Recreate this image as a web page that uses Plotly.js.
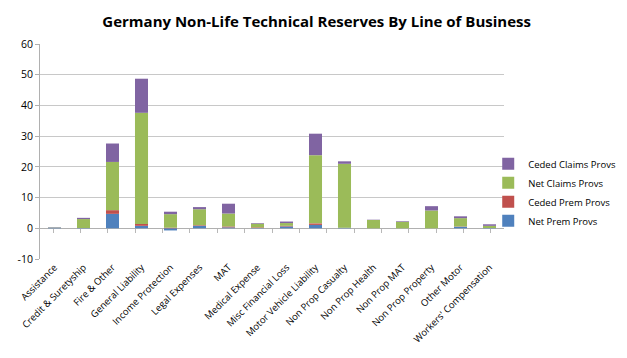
<!DOCTYPE html>
<html><head><meta charset="utf-8">
<script src="https://cdn.plot.ly/plotly-3.0.1.min.js"></script>
<style>html,body{margin:0;padding:0;background:#fff}#chart{width:627px;height:358px}</style>
</head><body><div id="chart"></div>
<script>
const categories = ["Assistance","Credit & Suretyship","Fire & Other","General Liability","Income Protection","Legal Expenses","MAT","Medical Expense","Misc Financial Loss","Motor Vehicle Liability","Non Prop Casualty","Non Prop Health","Non Prop MAT","Non Prop Property","Other Motor","Workers' Compensation"];
const netPremProvs    = [0.2, 0.1, 4.7, 0.8, -0.7, 0.8, 0.3, 0.1, 0.6, 1.1, 0.2, 0.0, 0.0, 0.0, 0.5, 0.1];
const cededPremProvs  = [0.0, 0.0, 1.2, 0.6, 0.2, 0.2, 0.3, 0.2, 0.2, 0.5, 0.0, 0.0, 0.0, 0.0, 0.1, 0.0];
const netClaimsProvs  = [0.1, 2.9, 15.7, 36.2, 4.4, 5.2, 4.2, 1.2, 0.9, 22.2, 20.8, 2.7, 2.1, 5.8, 2.7, 0.7];
const cededClaimsProvs= [0.1, 0.4, 6.0, 11.1, 0.8, 0.7, 3.2, 0.2, 0.5, 7.0, 0.8, 0.1, 0.2, 1.4, 0.6, 0.5];
const yTicks = [-10, 0, 10, 20, 30, 40, 50, 60];
const yRange = [-10, 60];

const series = [
  {name: "Net Prem Provs", y: netPremProvs, color: "#4F81BD"},
  {name: "Ceded Prem Provs", y: cededPremProvs, color: "#C0504D"},
  {name: "Net Claims Provs", y: netClaimsProvs, color: "#9BBB59"},
  {name: "Ceded Claims Provs", y: cededClaimsProvs, color: "#8064A2"}
];
const traces = series.map(s => ({
  type: "bar", name: s.name, x: categories, y: s.y,
  marker: {color: s.color, line: {width: 0}},
  hoverinfo: "x+y+name"
}));
// invisible trace carrying the categories for the tick axis drawn at the zero line
traces.push({type: "scatter", mode: "markers", x: categories, y: categories.map(() => null),
  xaxis: "x2", yaxis: "y", showlegend: false, hoverinfo: "skip", marker: {opacity: 0}});

const zeroPos = (0 - yRange[0]) / (yRange[1] - yRange[0]);

const layout = {
  width: 627, height: 358,
  margin: {l: 40, r: 123, t: 44, b: 99, autoexpand: false},
  paper_bgcolor: "#fff", plot_bgcolor: "#fff",
  barmode: "relative", bargap: 0.55,
  font: {family: "Open Sans, Liberation Sans, sans-serif", color: "#000"},
  title: {text: "<b>Germany Non-Life Technical Reserves By Line of Business</b>",
          font: {size: 15, family: "Open Sans, sans-serif", color: "#000"},
          x: 0.505, xanchor: "center", y: 0.94, yanchor: "middle"},
  xaxis: {
    tickangle: -45, tickfont: {size: 9.5, family: "Open Sans, sans-serif"},
    showgrid: false, showline: false, ticks: "", automargin: false
  },
  xaxis2: {
    overlaying: "x", anchor: "free", position: zeroPos, side: "bottom",
    showticklabels: false, showgrid: false, showline: false, zeroline: false,
    ticks: "outside", tickson: "boundaries", ticklen: 4, tickcolor: "#b8b8b8",
    automargin: false, fixedrange: true
  },
  yaxis: {
    range: yRange, tickvals: yTicks, ticktext: yTicks.map(String),
    tickfont: {size: 10.5, family: "Open Sans, sans-serif"},
    showgrid: true, gridcolor: "#c8c8c8", gridwidth: 1,
    zeroline: true, zerolinecolor: "#b0b0b0", zerolinewidth: 1,
    showline: true, linecolor: "#b0b0b0", linewidth: 1,
    ticks: "outside", ticklen: 4, tickcolor: "#b0b0b0", automargin: false
  },
  legend: {
    x: 0.966, xanchor: "left", y: 0.31, yanchor: "middle",
    traceorder: "reversed", font: {size: 9.5, family: "Open Sans, sans-serif"},
    tracegroupgap: 0, bgcolor: "rgba(0,0,0,0)"
  },
  showlegend: true
};

Plotly.newPlot("chart", traces, layout, {displayModeBar: false, staticPlot: true});
</script></body></html>
